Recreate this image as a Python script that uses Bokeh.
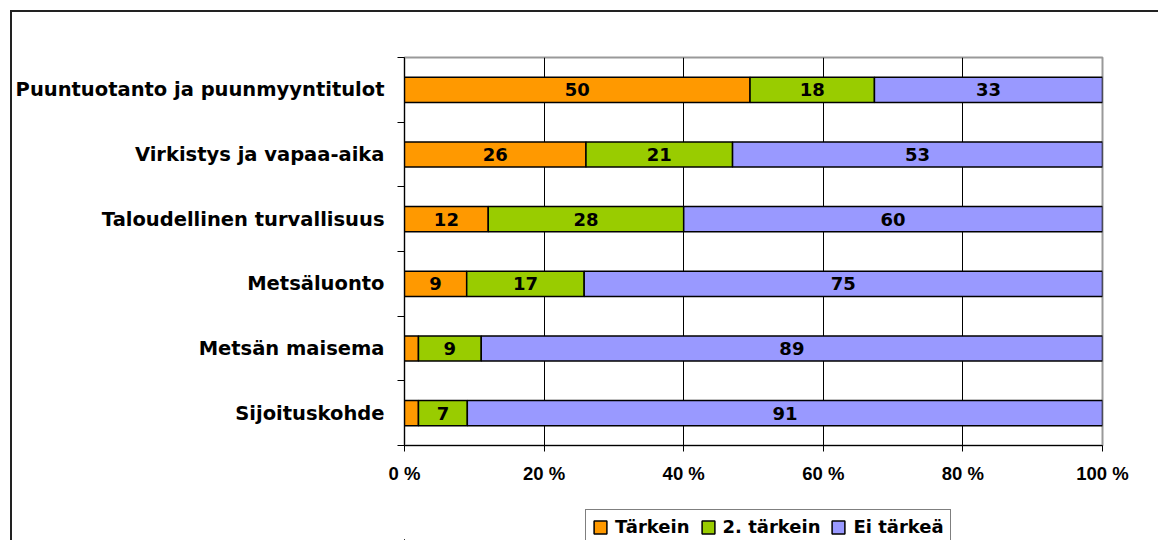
from bokeh.plotting import figure
from bokeh.layouts import column
from bokeh.models import Range1d, FixedTicker, ColumnDataSource, Legend, LegendItem
from bokeh.core.properties import value
from bokeh.embed import file_html
from bokeh.resources import INLINE

categories = ["Puuntuotanto ja puunmyyntitulot", "Virkistys ja vapaa-aika",
              "Taloudellinen turvallisuus", "Metsäluonto", "Metsän maisema", "Sijoituskohde"]
tarkein = [50, 26, 12, 9, 2, 2]
toinen = [18, 21, 28, 17, 9, 7]
ei_tarkea = [33, 53, 60, 75, 89, 91]
series_names = ["Tärkein", "2. tärkein", "Ei tärkeä"]
colors = ["#FF9900", "#99CC00", "#9999FF"]
x_ticks = [0, 20, 40, 60, 80, 100]

n = len(categories)
ys = [i + 0.5 for i in range(n)]
totals = [a + b + c for a, b, c in zip(tarkein, toinen, ei_tarkea)]

W = 1146
p = figure(width=W, height=478, output_backend="svg", toolbar_location=None,
           x_range=Range1d(0, 100), y_range=Range1d(n, 0),
           min_border_left=391, min_border_right=56, min_border_top=45, min_border_bottom=45)

# legend strip below the chart (frame aligned with the main chart by the column);
# its ranges keep the proxy bars out of view
p2 = figure(width=W, height=50, output_backend="svg", toolbar_location=None,
            x_range=Range1d(1000, 1100), y_range=Range1d(1000, 1001),
            x_axis_location=None, y_axis_location=None,
            min_border_left=0, min_border_right=0, min_border_top=0, min_border_bottom=0)
p2.xgrid.grid_line_color = None
p2.ygrid.grid_line_color = None
p2.outline_line_color = None

items = []
left = [0.0] * n
for name, vals, col in zip(series_names, [tarkein, toinen, ei_tarkea], colors):
    pct = [v / t * 100 for v, t in zip(vals, totals)]
    right = [l + q for l, q in zip(left, pct)]
    src = ColumnDataSource(dict(y=ys, left=left, right=right,
                                xc=[(l + r) / 2 for l, r in zip(left, right)],
                                lab=[str(v) if v >= 5 else "" for v in vals]))
    p.hbar(y="y", left="left", right="right", height=0.39, source=src,
           fill_color=col, line_color="black", line_width=1.5)
    p.text(x="xc", y="y", text="lab", source=src, text_align="center",
           text_baseline="middle", text_font=value("DejaVu Sans"),
           text_font_style="bold", text_font_size="18px", text_color="black")
    r2 = p2.hbar(y="y", left="left", right="right", height=0.39, source=src,
                 fill_color=col, line_color="black", line_width=1.5)
    items.append(LegendItem(label=name, renderers=[r2]))
    left = right

# x axis
p.xaxis.ticker = FixedTicker(ticks=x_ticks)
p.xaxis.major_label_overrides = {t: f"{t} %" for t in x_ticks}
p.xaxis.major_label_text_font = "Liberation Sans"
p.xaxis.major_label_text_font_style = "bold"
p.xaxis.major_label_text_font_size = "18.5px"
p.xaxis.major_label_text_color = "black"
p.xaxis.major_tick_out = 6
p.xaxis.major_tick_in = 0
p.xaxis.minor_tick_line_color = None
p.xaxis.axis_line_color = "black"
p.xaxis.major_tick_line_color = "black"
p.xaxis.major_label_standoff = 11

# y axis
p.yaxis.ticker = FixedTicker(ticks=ys, minor_ticks=list(range(n + 1)))
p.yaxis.major_label_overrides = {y: c for y, c in zip(ys, categories)}
p.yaxis.major_label_text_font = "DejaVu Sans"
p.yaxis.major_label_text_font_style = "bold"
p.yaxis.major_label_text_font_size = "19.5px"
p.yaxis.major_label_text_color = "black"
p.yaxis.major_tick_line_color = None
p.yaxis.major_tick_out = 0
p.yaxis.major_tick_in = 0
p.yaxis.minor_tick_out = 7
p.yaxis.minor_tick_in = 0
p.yaxis.minor_tick_line_color = "black"
p.yaxis.axis_line_color = "black"
p.yaxis.major_label_standoff = 13

# grid
p.xgrid.ticker = FixedTicker(ticks=[20, 40, 60, 80])
p.xgrid.grid_line_color = "black"
p.xgrid.grid_line_width = 1
p.ygrid.grid_line_color = None

p.outline_line_color = "#999999"
p.outline_line_width = 2

lg = Legend(items=items, location=(181, -4), orientation="horizontal")
lg.label_text_font = "DejaVu Sans"
lg.label_text_font_style = "bold"
lg.label_text_font_size = "18px"
lg.label_text_color = "black"
lg.glyph_width = 16
lg.glyph_height = 16
lg.label_standoff = 7
lg.spacing = 10
lg.padding = 6
lg.margin = 0
lg.border_line_color = "black"
lg.border_line_width = 1
lg.background_fill_alpha = 1
p2.add_layout(lg)

layout = column(p, p2, spacing=0)
layout.styles = {"border-left": "2px solid #222", "border-top": "2px solid #222",
                 "margin-left": "10px", "margin-top": "10px"}

open("out.html", "w").write(file_html(layout, INLINE))
